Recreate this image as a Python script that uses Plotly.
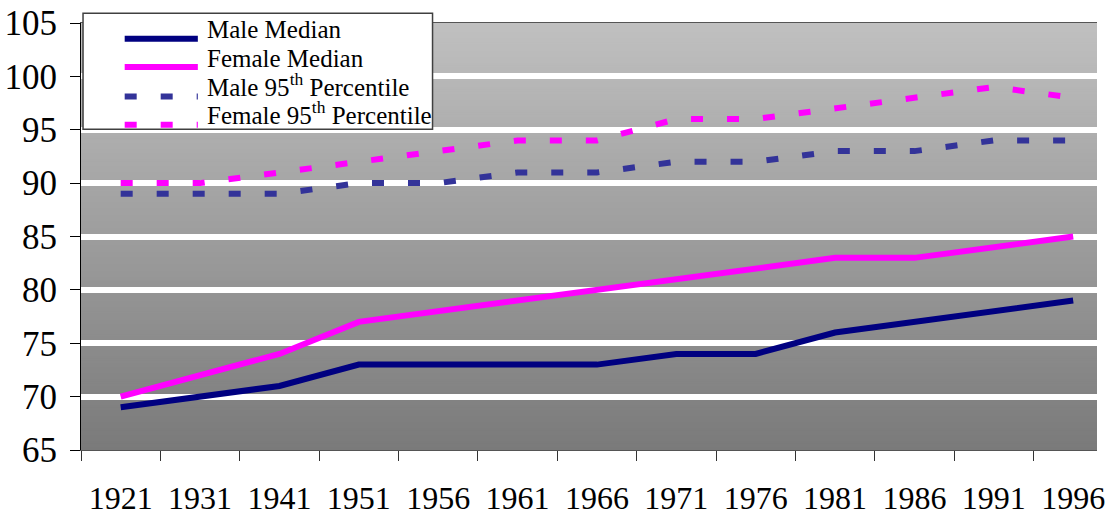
import plotly.graph_objects as go

years = ['1921', '1931', '1941', '1951', '1956', '1961', '1966',
         '1971', '1976', '1981', '1986', '1991', '1996']
male_median = [69, 70, 71, 73, 73, 73, 73, 74, 74, 76, 77, 78, 79]
female_median = [70, 72, 74, 77, 78, 79, 80, 81, 82, 83, 83, 84, 85]
male_p95 = [89, 89, 89, 90, 90, 91, 91, 92, 92, 93, 93, 94, 94]
female_p95 = [90, 90, 91, 92, 93, 94, 94, 96, 96, 97, 98, 99, 98]

series_names = ['Male Median', 'Female Median',
                'Male 95<sup>th</sup> Percentile', 'Female 95<sup>th</sup> Percentile']
series_values = [male_median, female_median, male_p95, female_p95]
series_colors = ['#000080', '#FF00FF', '#333399', '#FF00FF']
series_dash = ['solid', 'solid', '12px,24px', '12px,24px']

FONT = 'Liberation Serif'

fig = go.Figure()
for name, vals, col, dash in zip(series_names, series_values, series_colors, series_dash):
    fig.add_trace(go.Scatter(
        x=years, y=vals, mode='lines', name=name,
        line=dict(color=col, width=6, dash=dash),
        showlegend=False,
    ))

# vertical grey gradient behind the plot area
shapes = []
n = 200
top, bottom = 192, 122
for i in range(n):
    c = round(bottom + (top - bottom) * (i + 0.5) / n)
    shapes.append(dict(
        type='rect', xref='paper', yref='paper',
        x0=0, x1=1, y0=i / n, y1=(i + 1) / n + 0.002,
        fillcolor=f'rgb({c},{c},{c})', line=dict(width=0), layer='below',
    ))

# hand-drawn legend box like the original
shapes.append(dict(
    type='rect', xref='paper', yref='paper',
    x0=0.002, x1=0.346, y0=0.751, y1=1.023,
    fillcolor='white', line=dict(color='#404040', width=1.5), layer='above',
))
annotations = []
line_y = [0.963, 0.897, 0.828, 0.762]
text_y = [0.984, 0.918, 0.855, 0.790]
for name, col, dash, ly, ty in zip(series_names, series_colors, series_dash, line_y, text_y):
    shapes.append(dict(
        type='line', xref='paper', yref='paper',
        x0=0.043, x1=0.115, y0=ly, y1=ly,
        line=dict(color=col, width=6, dash=dash), layer='above',
    ))
    annotations.append(dict(
        xref='paper', yref='paper', x=0.122, y=ty,
        text=name, showarrow=False, xanchor='left', yanchor='middle',
        font=dict(family=FONT, size=25, color='black'),
    ))

fig.update_layout(
    width=1105, height=516,
    margin=dict(t=23, l=81, r=0, b=64),
    paper_bgcolor='white',
    plot_bgcolor='rgba(0,0,0,0)',
    font=dict(family=FONT, size=30, color='black'),
    shapes=shapes,
    annotations=annotations,
    showlegend=False,
    xaxis=dict(
        type='category', range=[-0.5, 12.3],
        tickson='boundaries', ticks='outside', ticklen=10, tickcolor='#333',
        showgrid=False, showline=True, linecolor='#555', linewidth=1, mirror=True,
        ticklabelstandoff=20,
        tickfont=dict(family=FONT, size=32, color='black'),
    ),
    yaxis=dict(
        range=[65, 105], dtick=5, tick0=65,
        ticks='outside', ticklen=10, tickcolor='black',
        showline=True, linecolor='black', linewidth=1,
        showgrid=True, gridcolor='white', gridwidth=6,
        zeroline=False, ticklabelstandoff=6,
        tickfont=dict(family=FONT, size=35, color='black'),
    ),
)

fig.write_html('out.html', config=dict(displayModeBar=False),
               post_script="document.body.style.margin='0';")
